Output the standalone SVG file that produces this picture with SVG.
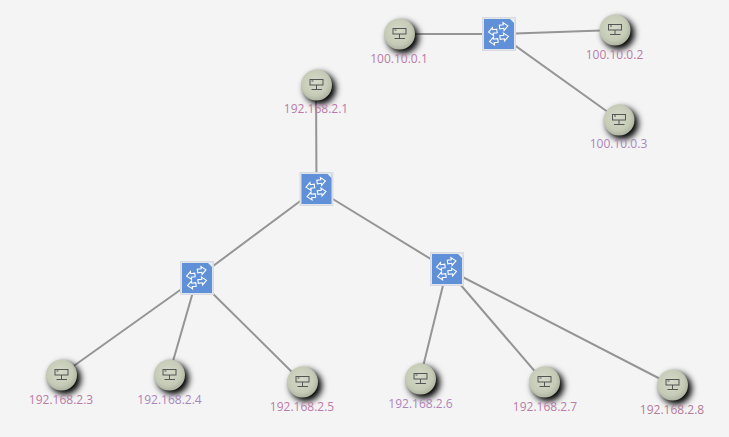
<svg xmlns="http://www.w3.org/2000/svg" width="729" height="437" viewBox="0 0 729 437">
<style>
.c{stroke:#959595;stroke-width:2;fill:none}
.l{font-family:"Open Sans","Liberation Sans",sans-serif;font-size:12px;text-anchor:middle}
.p{fill:#ba7ba6}.v{fill:#ab85bd}.r{fill:#b57b94}
.a{fill:none;stroke:#fff;stroke-width:1.1;stroke-linejoin:miter}
.g{fill:none;stroke:#555;stroke-width:1}
</style>
<defs>
<radialGradient id="b" cx="0.45" cy="0.42" r="0.6"><stop offset="0" stop-color="#d6dac9"/><stop offset="0.7" stop-color="#c6cbb7"/><stop offset="1" stop-color="#abb19d"/></radialGradient>
<filter id="s" x="-50%" y="-50%" width="220%" height="220%"><feGaussianBlur stdDeviation="3"/></filter>
<path id="ar" class="a" d="M4.500 0L0-4V-1.800H-4V1.800H0V4Z"/>
<g id="h">
<circle cx="3.500" cy="3.500" r="16" fill="#000" filter="url(#s)"/>
<circle r="15.500" fill="url(#b)"/>
<rect x="-6.500" y="-5.500" width="13" height="5.500" class="g"/>
<path d="M0 0V4.500M-5 4.500H5.500" class="g"/>
<path d="M-5-4h2" class="g"/>
</g>
<g id="w">
<rect x="-16.500" y="-16.500" width="33" height="33" fill="#dfe3ea" stroke="#d8dce2"/>
<rect x="-15" y="-15" width="30" height="30" fill="#5f90d8"/>
<path d="M15-15v4l-4-4z" fill="#e8eefa"/>
<use href="#ar" transform="translate(4.500 -7.500) rotate(-8)"/>
<use href="#ar" transform="translate(-6 -2.500) rotate(172)"/>
<use href="#ar" transform="translate(5 3) rotate(-8)"/>
<use href="#ar" transform="translate(-5 7) rotate(172)"/>
</g>
</defs>
<rect width="729" height="437" fill="#f4f4f4"/>
<g id="connectors">
<path class="c" d="M399 34H499M499 34L615 30M499 34L619 120"/>
<path class="c" d="M316 85L316.500 189M316.500 189L197 278M316.500 189L447 269"/>
<path class="c" d="M197 278L61 375M197 278L169 375M197 278L302 382"/>
<path class="c" d="M447 269L420 379M447 269L544 382M447 269L672 385"/>
</g>
<g id="sw1"><use href="#w" x="499" y="34"/></g>
<g id="sw2"><use href="#w" x="316.500" y="189"/></g>
<g id="sw3"><use href="#w" x="197" y="278"/></g>
<g id="sw4"><use href="#w" x="447" y="269"/></g>
<g id="h1"><use href="#h" x="399.500" y="34"/><text class="l p" x="399" y="63">100.10.0.1</text></g>
<g id="h2"><use href="#h" x="615" y="30"/><text class="l p" x="614.500" y="59">100.10.0.2</text></g>
<g id="h3"><use href="#h" x="619" y="120"/><text class="l v" x="618.500" y="148">100.10.0.3</text></g>
<g id="h4"><use href="#h" x="316.500" y="85"/><text class="l p" x="316" y="113">192.168.2.1</text></g>
<g id="h5"><use href="#h" x="61.500" y="375"/><text class="l p" x="61" y="404">192.168.2.3</text></g>
<g id="h6"><use href="#h" x="169.500" y="375"/><text class="l v" x="169.500" y="404">192.168.2.4</text></g>
<g id="h7"><use href="#h" x="302.500" y="382"/><text class="l p" x="302" y="411">192.168.2.5</text></g>
<g id="h8"><use href="#h" x="420.500" y="379"/><text class="l v" x="420.500" y="408">192.168.2.6</text></g>
<g id="h9"><use href="#h" x="544.500" y="382"/><text class="l p" x="545" y="411">192.168.2.7</text></g>
<g id="h10"><use href="#h" x="672.500" y="385"/><text class="l r" x="672" y="414">192.168.2.8</text></g>
</svg>
